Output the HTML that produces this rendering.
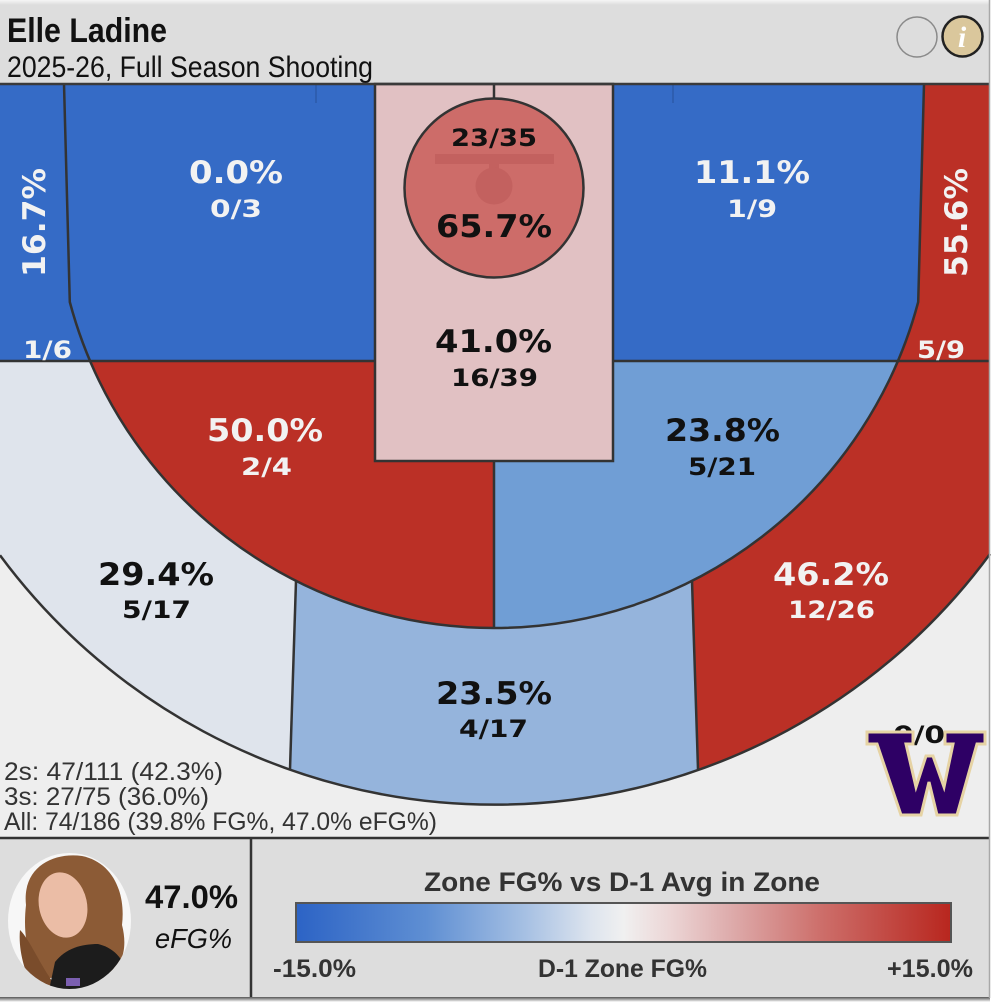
<!DOCTYPE html>
<html><head><meta charset="utf-8">
<style>
html,body{margin:0;padding:0;background:#fff;width:991px;height:1004px;overflow:hidden}
svg{display:block}
.b{font-family:"DejaVu Sans",Verdana,sans-serif;font-weight:bold}
.big{font-size:31px}
.sm{font-size:24px}
.w{fill:#f2f2f2}
.d{fill:#111}
.r{font-family:"Liberation Sans",Arial,sans-serif}
</style></head><body>
<svg width="991" height="1004" viewBox="0 0 991 1004" xmlns="http://www.w3.org/2000/svg">
<defs>
<linearGradient id="top" x1="0" y1="0" x2="0" y2="1">
<stop offset="0" stop-color="#f6f6f6"/><stop offset="1" stop-color="#dddddd"/>
</linearGradient>
<linearGradient id="bot" x1="0" y1="0" x2="0" y2="1">
<stop offset="0" stop-color="#555"/><stop offset="1" stop-color="#fff"/>
</linearGradient>
<linearGradient id="leg" x1="0" y1="0" x2="1" y2="0">
<stop offset="0" stop-color="#2c63c5"/>
<stop offset="0.2" stop-color="#5f8fd3"/>
<stop offset="0.35" stop-color="#a6c0e3"/>
<stop offset="0.45" stop-color="#dde4ee"/>
<stop offset="0.5" stop-color="#f0f0f0"/>
<stop offset="0.57" stop-color="#ecd6d6"/>
<stop offset="0.66" stop-color="#deadad"/>
<stop offset="0.8" stop-color="#cd6f6b"/>
<stop offset="1" stop-color="#b8261e"/>
</linearGradient>
<clipPath id="ph"><ellipse cx="69.5" cy="921" rx="61.5" ry="68"/></clipPath>
</defs>

<!-- header -->
<rect x="0" y="0" width="990" height="84" fill="#dddddd"/>
<rect x="0" y="0" width="990" height="5" fill="url(#top)"/>
<text class="r" x="7" y="42" font-size="34" font-weight="bold" fill="#111" textLength="160" lengthAdjust="spacingAndGlyphs">Elle Ladine</text>
<text class="r" x="7" y="77" font-size="30" fill="#111" textLength="366" lengthAdjust="spacingAndGlyphs">2025-26, Full Season Shooting</text>
<circle cx="917" cy="37" r="20" fill="#dddddd" stroke="#8a8a8a" stroke-width="1.5"/>
<circle cx="962.5" cy="36.5" r="20" fill="#dac79c" stroke="#222" stroke-width="2.5"/>
<text x="962" y="47" text-anchor="middle" font-family="Liberation Serif,serif" font-style="italic" font-weight="bold" font-size="30" fill="#fff">i</text>

<!-- court background -->
<rect x="0" y="84" width="990" height="754" fill="#eeeeee"/>

<!-- zones -->
<path d="M0,84 L64,84 L69.8,302 A439,439 0 0 0 90.1,361 L0,361 Z" fill="#356bc6"/>
<path d="M64,84 L375,84 L375,361 L90.1,361 A439,439 0 0 1 69.8,302 Z" fill="#356bc6"/>
<path d="M613,84 L924,84 L918.2,302 A439,439 0 0 1 897.9,361 L613,361 Z" fill="#356bc6"/>
<path d="M924,84 L990,84 L990,361 L897.9,361 A439,439 0 0 0 918.2,302 Z" fill="#bb3026"/>
<path d="M90.1,361 L375,361 L375,461 L494,461 L494,628 A439,439 0 0 1 90.1,361 Z" fill="#bb3026"/>
<path d="M613,361 L897.9,361 A439,439 0 0 1 494,628 L494,461 L613,461 Z" fill="#709ed5"/>
<path d="M0,361 L90.1,361 A439,439 0 0 0 296,580.8 L290,769.2 A615,615 0 0 1 0,555.3 Z" fill="#dfe4ec"/>
<path d="M296,580.8 A439,439 0 0 0 692,580.8 L698,769.2 A615,615 0 0 1 290,769.2 Z" fill="#95b4dc"/>
<path d="M692,580.8 A439,439 0 0 0 897.9,361 L990,361 L990,554 A615,615 0 0 1 698,769.2 Z" fill="#bb3026"/>

<!-- hash marks -->
<line x1="316" y1="84" x2="316" y2="103" stroke="#2c5aa8" stroke-width="1.5"/>
<line x1="673" y1="84" x2="673" y2="103" stroke="#2c5aa8" stroke-width="1.5"/>

<!-- lines -->
<g fill="none" stroke="#333" stroke-width="2.5">
<path d="M0,361 L990,361"/>
<path d="M64,84 L69.8,302 A439,439 0 0 0 494,628 A439,439 0 0 0 918.2,302 L924,84"/>
<path d="M0,555.3 A615,615 0 0 0 990,554"/>
<path d="M494,461 L494,628"/>
<path d="M296,580.8 L290,769.2"/>
<path d="M692,580.8 L698,769.2"/>
</g>

<!-- lane -->
<rect x="375" y="84" width="238" height="377" fill="#e1c1c3" stroke="#333" stroke-width="2.5"/>
<line x1="494" y1="84" x2="494" y2="99" stroke="#333" stroke-width="2.5"/>
<circle cx="494" cy="188" r="89.5" fill="#cd6c69" stroke="#333" stroke-width="2.5"/>
<rect x="435" y="154" width="119" height="10" fill="#c3615f"/>
<rect x="489" y="163" width="10" height="6" fill="#c3615f"/>
<circle cx="494" cy="186" r="18.5" fill="#c3615f"/>

<!-- top court line -->
<line x1="0" y1="84" x2="990" y2="84" stroke="#3a3a3a" stroke-width="2.5"/>

<!-- zone text -->
<g class="b">
<text class="big w" transform="translate(45,277) rotate(-90)" font-size="30" textLength="109" lengthAdjust="spacingAndGlyphs">16.7%</text>
<text class="sm w" x="23" y="358" textLength="49" lengthAdjust="spacingAndGlyphs">1/6</text>
<text class="big w" x="189" y="183" textLength="94" lengthAdjust="spacingAndGlyphs">0.0%</text>
<text class="sm w" x="210" y="217" textLength="52" lengthAdjust="spacingAndGlyphs">0/3</text>
<text class="big w" x="694" y="183" textLength="116" lengthAdjust="spacingAndGlyphs">11.1%</text>
<text class="sm w" x="727" y="217" textLength="50" lengthAdjust="spacingAndGlyphs">1/9</text>
<text class="big w" transform="translate(967,277) rotate(-90)" font-size="30" textLength="109" lengthAdjust="spacingAndGlyphs">55.6%</text>
<text class="sm w" x="917" y="358" textLength="48" lengthAdjust="spacingAndGlyphs">5/9</text>
<text class="sm d" x="451" y="146" textLength="86" lengthAdjust="spacingAndGlyphs">23/35</text>
<text class="big d" x="436" y="237" textLength="116" lengthAdjust="spacingAndGlyphs">65.7%</text>
<text class="big d" x="435" y="352" textLength="117" lengthAdjust="spacingAndGlyphs">41.0%</text>
<text class="sm d" x="451" y="386" textLength="87" lengthAdjust="spacingAndGlyphs">16/39</text>
<text class="big w" x="207" y="441" textLength="116" lengthAdjust="spacingAndGlyphs">50.0%</text>
<text class="sm w" x="241" y="475" textLength="51" lengthAdjust="spacingAndGlyphs">2/4</text>
<text class="big d" x="665" y="441" textLength="115" lengthAdjust="spacingAndGlyphs">23.8%</text>
<text class="sm d" x="688" y="475" textLength="68" lengthAdjust="spacingAndGlyphs">5/21</text>
<text class="big d" x="98" y="585" textLength="116" lengthAdjust="spacingAndGlyphs">29.4%</text>
<text class="sm d" x="122" y="618" textLength="69" lengthAdjust="spacingAndGlyphs">5/17</text>
<text class="big w" x="773" y="585" textLength="116" lengthAdjust="spacingAndGlyphs">46.2%</text>
<text class="sm w" x="788" y="618" textLength="87" lengthAdjust="spacingAndGlyphs">12/26</text>
<text class="big d" x="436" y="704" textLength="116" lengthAdjust="spacingAndGlyphs">23.5%</text>
<text class="sm d" x="459" y="737" textLength="69" lengthAdjust="spacingAndGlyphs">4/17</text>
<text class="sm d" x="893" y="743" textLength="52" lengthAdjust="spacingAndGlyphs">0/0</text>
</g>

<!-- W logo -->
<polygon transform="translate(867,732)" points="0,0 46,0 46,12 39,12 49,55 59,24 66,24 77,55 86,12 78,12 78,0 118,0 118,12 110,12 90,83 70,83 62,50 54,83 34,83 10,12 0,12" fill="#2e0065" stroke="#e6d3a4" stroke-width="3" stroke-linejoin="miter"/>

<!-- stats -->
<g class="r" fill="#333" font-size="25">
<text x="4" y="780" textLength="219" lengthAdjust="spacingAndGlyphs">2s: 47/111 (42.3%)</text>
<text x="4" y="805" textLength="205" lengthAdjust="spacingAndGlyphs">3s: 27/75 (36.0%)</text>
<text x="4" y="830" textLength="433" lengthAdjust="spacingAndGlyphs">All: 74/186 (39.8% FG%, 47.0% eFG%)</text>
</g>

<!-- bottom panel -->
<rect x="0" y="839" width="990" height="158" fill="#dddddd"/>
<line x1="0" y1="838" x2="990" y2="838" stroke="#333" stroke-width="2.5"/>
<line x1="251" y1="839" x2="251" y2="997" stroke="#333" stroke-width="2.5"/>
<rect x="0" y="997" width="990" height="5" fill="url(#bot)"/>
<line x1="989.5" y1="0" x2="989.5" y2="998" stroke="#a8a8a8" stroke-width="1.5"/>

<!-- photo -->
<g clip-path="url(#ph)">
<rect x="8" y="853" width="124" height="137" fill="#f7f7f7"/>
<path d="M26,905 C22,868 52,852 82,856 C112,862 126,892 122,925 C128,948 122,966 110,972 L50,978 C30,972 22,940 26,905 Z" fill="#8c5b36"/>
<path d="M20,930 C30,940 40,965 55,985 L35,990 C25,975 18,950 20,930 Z" fill="#7a4c2b"/>
<ellipse cx="63" cy="905" rx="24" ry="33" transform="rotate(-12 63 905)" fill="#ebbda6"/>
<path d="M48,995 L55,962 C66,948 82,944 98,944 C114,948 126,958 134,992 Z" fill="#1c1c1c"/>
<rect x="66" y="978" width="14" height="8" fill="#7b5fb0"/>
</g>

<text class="r" x="145" y="908" font-size="32" font-weight="bold" fill="#111" textLength="93" lengthAdjust="spacingAndGlyphs">47.0%</text>
<text class="r" x="155" y="948" font-size="28" font-style="italic" fill="#111" textLength="77" lengthAdjust="spacingAndGlyphs">eFG%</text>

<!-- legend -->
<text class="r" x="424" y="891" font-size="27" font-weight="bold" fill="#333" textLength="396" lengthAdjust="spacingAndGlyphs">Zone FG% vs D-1 Avg in Zone</text>
<rect x="296" y="903" width="655" height="39" fill="url(#leg)" stroke="#555" stroke-width="2"/>
<text class="r" x="273" y="977" font-size="25" font-weight="bold" fill="#333" textLength="83" lengthAdjust="spacingAndGlyphs">-15.0%</text>
<text class="r" x="538" y="977" font-size="25" font-weight="bold" fill="#333" textLength="169" lengthAdjust="spacingAndGlyphs">D-1 Zone FG%</text>
<text class="r" x="887" y="977" font-size="25" font-weight="bold" fill="#333" textLength="86" lengthAdjust="spacingAndGlyphs">+15.0%</text>
</svg>
</body></html>
